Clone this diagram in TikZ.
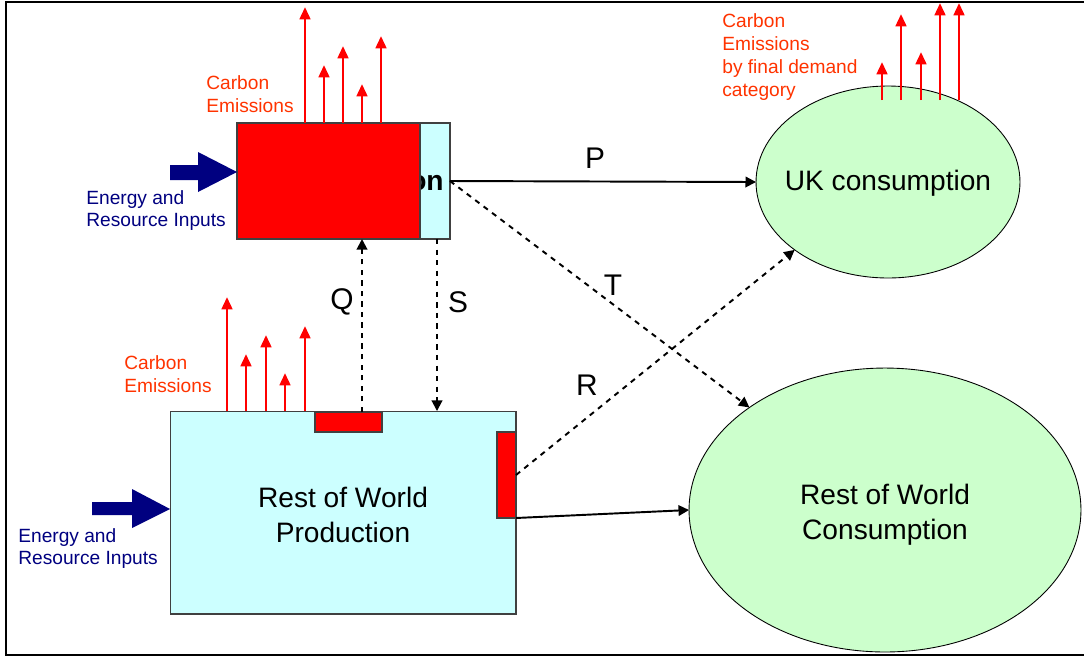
\documentclass[tikz,border=0pt]{standalone}
\usepackage{fontspec}
\setmainfont{Liberation Sans}
\usetikzlibrary{arrows.meta,shapes.geometric}
\definecolor{prodcyan}{HTML}{CCFFFF}
\definecolor{consgreen}{HTML}{CCFFCC}
\definecolor{emitorange}{HTML}{FF3300}
\definecolor{inputnavy}{HTML}{000080}
\tikzset{
  prodbox/.style={draw=black!75, fill=prodcyan, line width=0.6pt, outer sep=0pt, inner sep=0pt},
  tabbox/.style={draw=black!75, fill=red, line width=0.6pt, outer sep=0pt, inner sep=0pt},
  consell/.style={ellipse, draw=black, fill=consgreen, line width=0.5pt, outer sep=0pt, inner sep=0pt},
  constext/.style={align=center, inner sep=0pt, font=\fontsize{16}{20}\selectfont},
  flow/.style={line width=1.1pt, -{Triangle[length=6pt,width=6pt]}},
  emit/.style={red, line width=1.6pt, -{Triangle[length=7pt,width=6pt]}},
  emittext/.style={emitorange, anchor=west, align=left, inner sep=0pt, font=\fontsize{10.9}{13}\selectfont},
  inputtext/.style={inputnavy, anchor=west, align=left, inner sep=0pt, font=\fontsize{10.9}{13}\selectfont},
  flowlabel/.style={inner sep=0pt, font=\fontsize{17}{20}\selectfont}
}
\begin{document}
\begin{tikzpicture}[x=0.02cm, y=-0.02cm]
    \useasboundingbox (0,0) rectangle (1084,657);
    % Frame
    \draw[line width=1.1pt] (1084,2) -- (6,2) -- (6,655) -- (1084,655);

    % UK production
    \node[prodbox, minimum width=4.26cm, minimum height=2.32cm] (ukprod) at (343.5,181) {};
    \node[font=\fontsize{16}{20}\selectfont\bfseries, anchor=east, inner sep=0pt] (ukprodtxt) at (444,183) {on};
    \draw[tabbox] (ukprod.north west) rectangle (420,239);

    % Rest of World production
    \node[prodbox, minimum width=6.92cm, minimum height=4.06cm] (rowprod) at (343,512.5) {};
    \node[constext] (rowprodtxt) at (343,515) {Rest of World\\Production};
    \node[tabbox, minimum width=1.34cm, minimum height=0.4cm] (rowtabtop) at (348.5,422) {};
    \node[tabbox, minimum width=0.38cm, minimum height=1.72cm] (rowtabside) at (506.5,475) {};

    % Consumption
    \node[consell, minimum width=5.28cm, minimum height=3.84cm] (ukcons) at (888,182) {};
    \node[constext] (ukconstxt) at (888,183) {UK consumption};
    \node[consell, minimum width=7.84cm, minimum height=5.68cm] (rowcons) at (885,510) {};
    \node[constext] (rowconstxt) at (885,515) {Rest of World\\Consumption};

    % Trade flows
    \coordinate (qx) at (362,0);
    \coordinate (sx) at (437,0);
    \draw[flow] (ukprod.east) -- (ukcons.west);
    \draw[flow, dashed] (ukprod.east) -- (rowcons);
    \draw[flow, dashed] (rowtabtop.north -| qx) -- (ukprod.south -| qx);
    \draw[flow, dashed] (ukprod.south -| sx) -- (rowprod.north -| sx);
    \draw[flow, dashed] (rowtabside.east) -- (ukcons.south west);
    \draw[flow] (rowtabside.south east) -- (rowcons.west);
    \node[flowlabel] (labP) at (595,158) {P};
    \node[flowlabel] (labT) at (613,285) {T};
    \node[flowlabel] (labQ) at (342,302) {Q};
    \node[flowlabel] (labS) at (458,302) {S};
    \node[flowlabel] (labR) at (587,385) {R};

    % Carbon emissions
    \foreach \x/\y in {305/7, 324/65, 343/46, 362/84, 381/36}
      \draw[emit] (\x,0 |- ukprod.north) -- (\x,\y);
    \foreach \x/\y in {227/297, 246/354, 266/335, 285/373, 305/326}
      \draw[emit] (\x,0 |- rowprod.north) -- (\x,\y);
    \foreach \x/\y in {882/62, 901/14, 921/52, 940/3, 959/3}
      \draw[emit] (\x,100) -- (\x,\y);
    \node[emittext] (emitukprod) at (206,94) {Carbon\\Emissions};
    \node[emittext] (emitrowprod) at (124,374) {Carbon\\Emissions};
    \node[emittext] (emitukcons) at (722,57) {Carbon\\Emissions\\by final demand\\category};

    % Energy and resource inputs
    \fill[inputnavy] (ukprod.west |- 0,172) -- (198,152) -- (198,165) -- (170,165) -- (170,180)
      -- (198,180) -- (198,192) -- cycle;
    \fill[inputnavy] (rowprod.west |- 0,509) -- (132,489) -- (132,502) -- (92,502) -- (92,515)
      -- (132,515) -- (132,528) -- cycle;
    \node[inputtext] (inukprod) at (86,210.5) {Energy and\\Resource Inputs};
    \node[inputtext] (inrowprod) at (18,548.5) {Energy and\\Resource Inputs};
  \end{tikzpicture}
\end{document}
